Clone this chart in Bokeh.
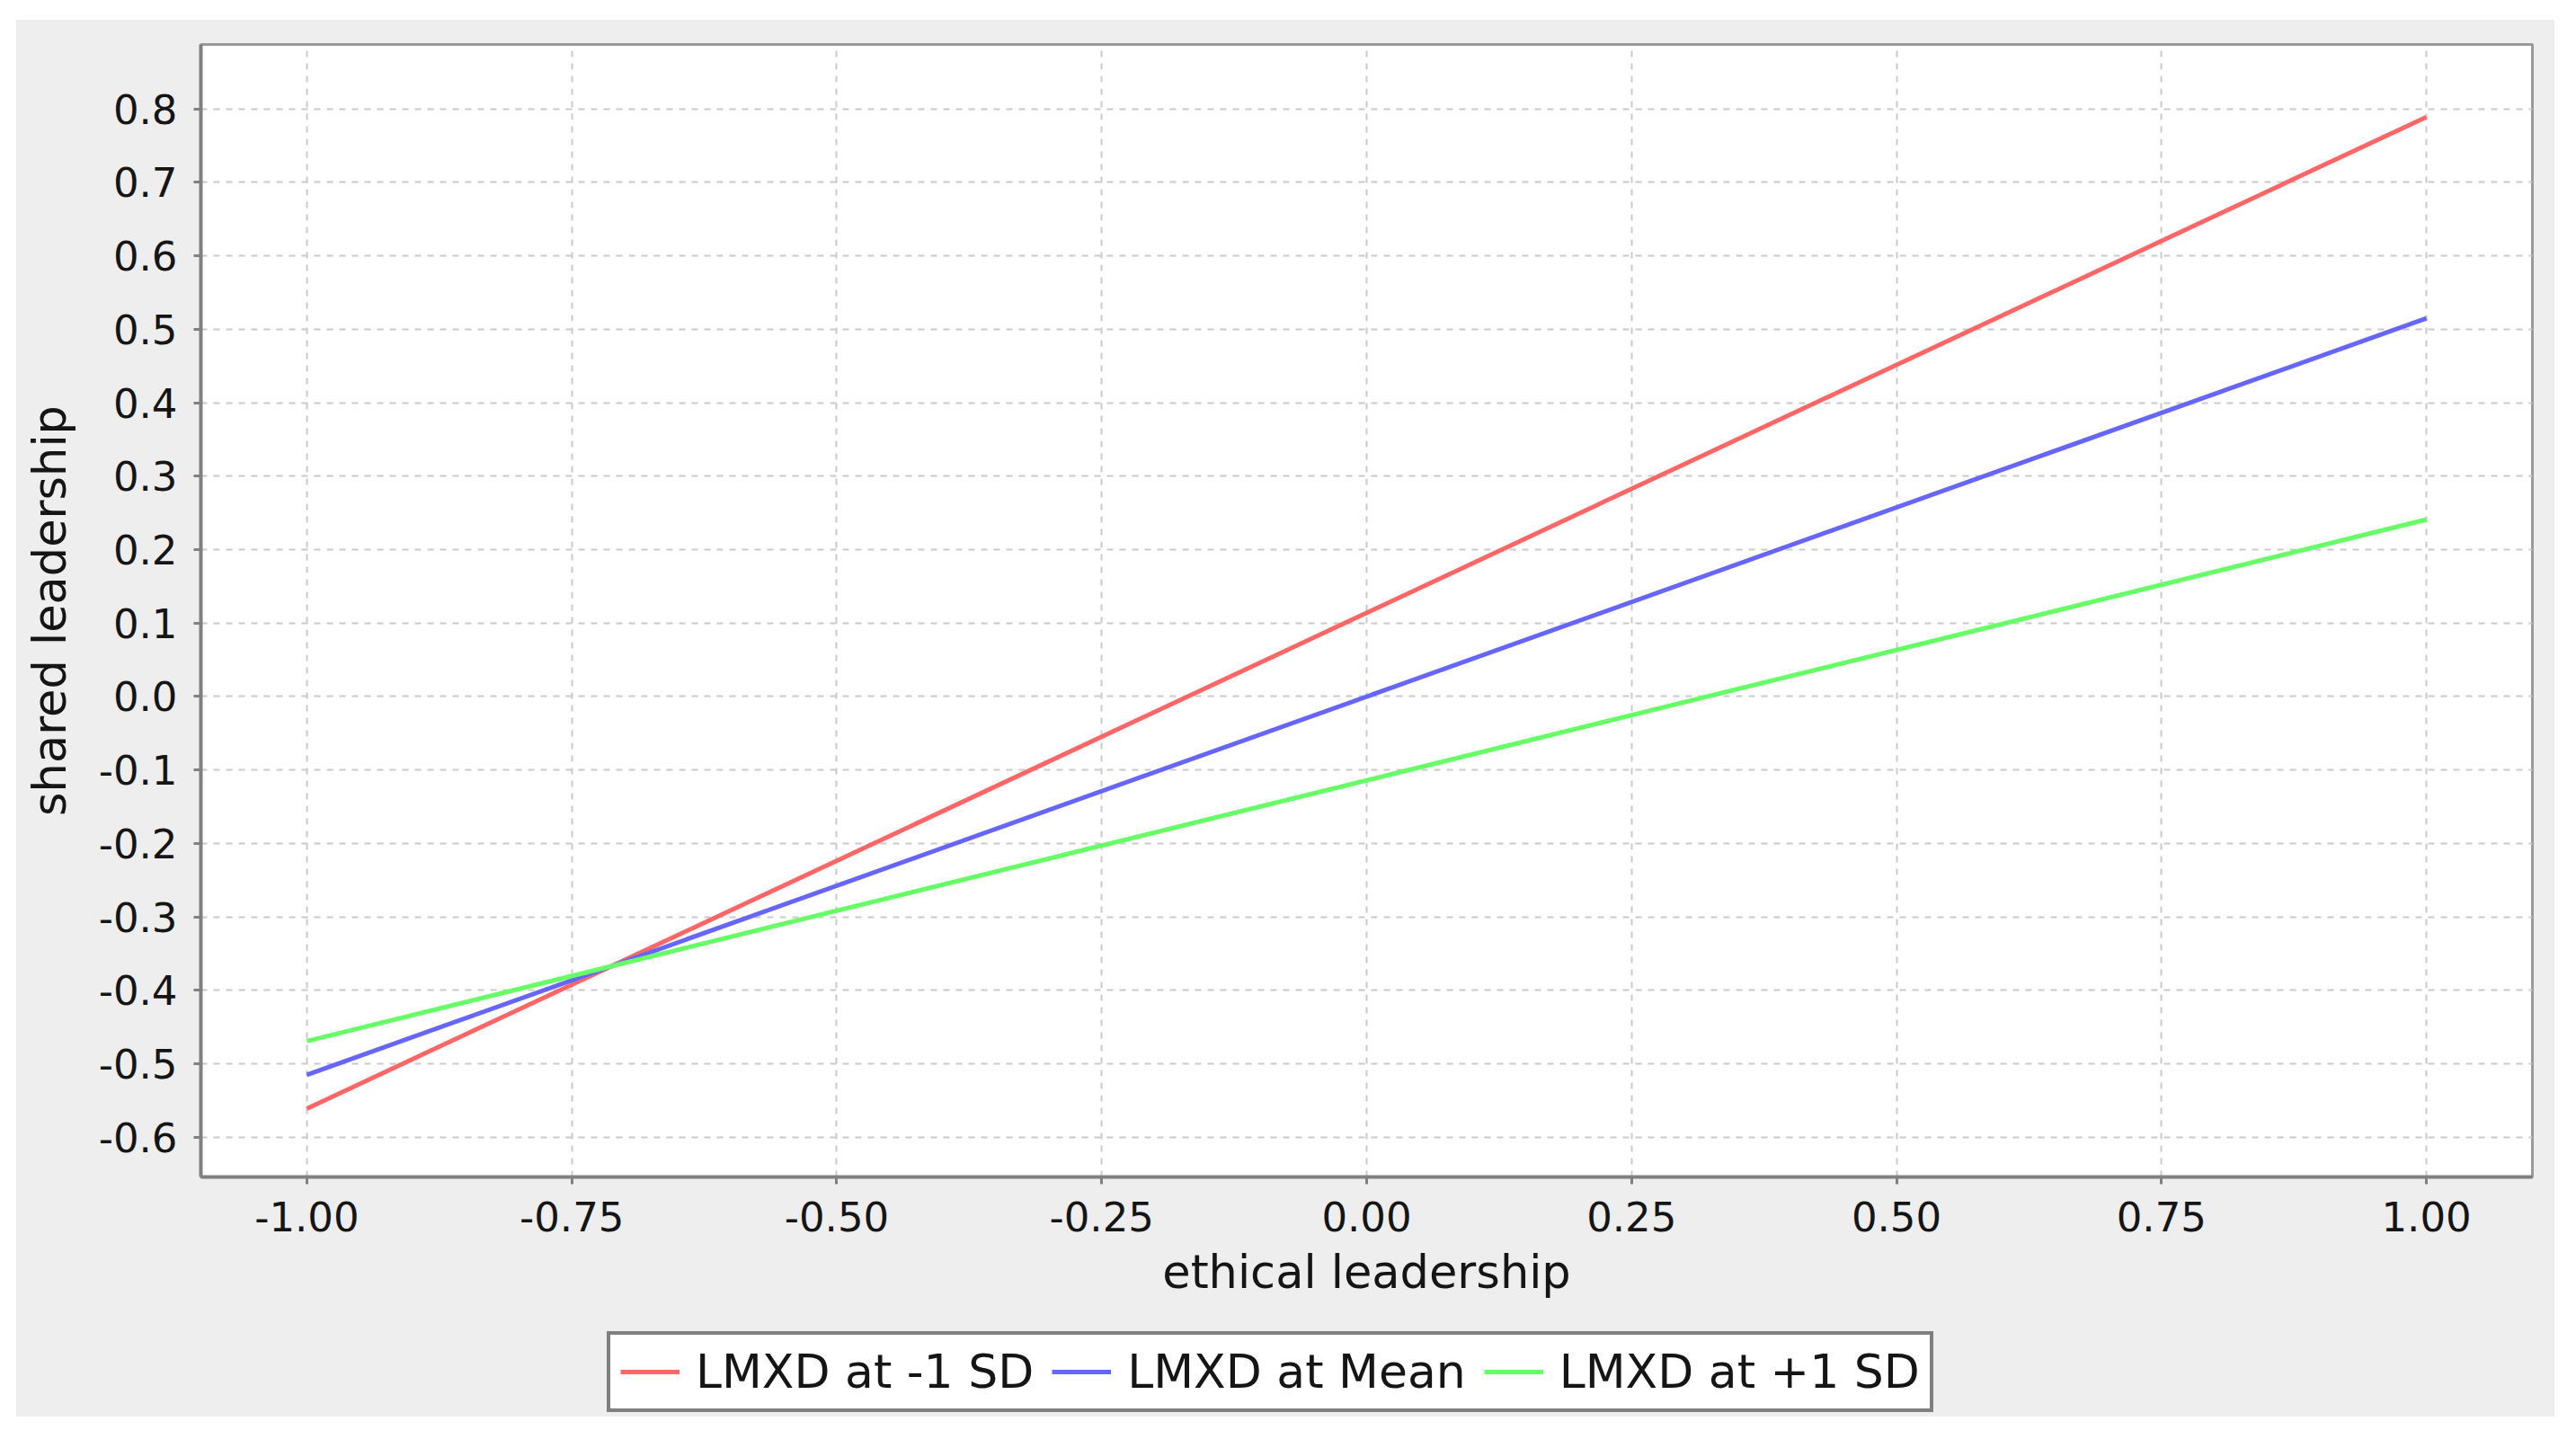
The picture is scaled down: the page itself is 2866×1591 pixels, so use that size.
from bokeh.plotting import figure
from bokeh.models import Range1d, FixedTicker, NumeralTickFormatter, Legend, LegendItem
from bokeh.layouts import column
from bokeh.embed import file_html
from bokeh.resources import INLINE

# ---- data ----
x_vals = [-1.0, 1.0]
lmxd_low = [-0.561, 0.789]    # LMXD at -1 SD
lmxd_mean = [-0.515, 0.515]   # LMXD at Mean
lmxd_high = [-0.469, 0.241]   # LMXD at +1 SD
series_names = ["LMXD at -1 SD", "LMXD at Mean", "LMXD at +1 SD"]
x_ticks = [-1.0, -0.75, -0.5, -0.25, 0.0, 0.25, 0.5, 0.75, 1.0]
y_ticks = [-0.6, -0.5, -0.4, -0.3, -0.2, -0.1, 0.0, 0.1, 0.2, 0.3, 0.4, 0.5, 0.6, 0.7, 0.8]
x_label = "ethical leadership"
y_label = "shared leadership"

colors = ["#FF6666", "#6666FF", "#66FF66"]
FONT = "DejaVu Sans"
TXT = "#151515"
PANEL = "#EEEEEE"
W = 2824

p = figure(width=W, height=1448, output_backend="svg", toolbar_location=None,
           x_range=Range1d(-1.1, 1.1), y_range=Range1d(-0.654, 0.8877),
           min_border_left=205, min_border_right=25, min_border_top=27, min_border_bottom=161)
p.border_fill_color = PANEL
p.background_fill_color = "white"
p.outline_line_color = "#9a9a9a"
p.outline_line_width = 3

# grids
for g in (p.xgrid[0], p.ygrid[0]):
    g.grid_line_color = "#cacaca"
    g.grid_line_width = 2
    g.grid_line_dash = "7 7"
p.xgrid[0].ticker = FixedTicker(ticks=x_ticks)
p.ygrid[0].ticker = FixedTicker(ticks=y_ticks)

# axes
p.xaxis.ticker = FixedTicker(ticks=x_ticks)
p.yaxis.ticker = FixedTicker(ticks=y_ticks)
p.xaxis.formatter = NumeralTickFormatter(format="0.00")
p.yaxis.formatter = NumeralTickFormatter(format="0.0")
for ax in (p.xaxis[0], p.yaxis[0]):
    ax.axis_line_color = "#808080"
    ax.axis_line_width = 4
    ax.major_tick_line_color = "#808080"
    ax.major_tick_line_width = 3
    ax.major_tick_out = 8
    ax.major_tick_in = 0
    ax.minor_tick_line_color = None
    ax.major_label_text_font = FONT
    ax.major_label_text_font_size = "45px"
    ax.major_label_text_color = TXT
    ax.axis_label_text_font = FONT
    ax.axis_label_text_font_size = "51px"
    ax.axis_label_text_font_style = "normal"
    ax.axis_label_text_color = TXT
p.xaxis.axis_label = x_label
p.yaxis.axis_label = y_label
p.xaxis.major_label_standoff = 19
p.yaxis.major_label_standoff = 18
p.xaxis.axis_label_standoff = 13
p.yaxis.axis_label_standoff = 22

# lines
for ys, c in zip([lmxd_low, lmxd_mean, lmxd_high], colors):
    p.line(x_vals, ys, line_color=c, line_width=5)

# legend strip below the chart (its lines lie outside its view; only the legend shows)
lf = figure(width=W, height=106, output_backend="svg", toolbar_location=None,
            x_axis_type=None, y_axis_type=None, min_border=0,
            x_range=Range1d(5, 6), y_range=Range1d(5, 6))
lf.border_fill_color = PANEL
lf.background_fill_color = PANEL
lf.outline_line_color = None
lf.grid.visible = False
leg_renderers = [lf.line(x_vals, ys, line_color=c, line_width=5)
                 for ys, c in zip([lmxd_low, lmxd_mean, lmxd_high], colors)]

legend = Legend(items=[LegendItem(label=n, renderers=[r]) for n, r in zip(series_names, leg_renderers)],
                orientation="horizontal", location=(452, 5))
legend.border_line_color = "black"
legend.border_line_width = 4
legend.background_fill_color = "white"
legend.background_fill_alpha = 1.0
legend.label_text_font = FONT
legend.label_text_font_size = "52px"
legend.label_text_color = TXT
legend.glyph_width = 66
legend.label_standoff = 18
legend.spacing = 20
legend.padding = 11
legend.margin = 0
lf.add_layout(legend, "center")

layout = column(p, lf, spacing=0)
layout.styles = {"margin-left": "18px", "margin-top": "22px", "background-color": PANEL}
open("out.html", "w").write(file_html(layout, INLINE))
